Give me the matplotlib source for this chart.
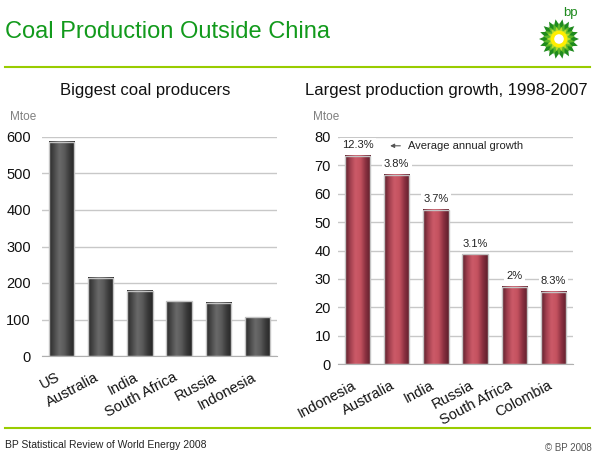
import matplotlib.pyplot as plt
import numpy as np
import matplotlib.transforms as mtransforms
from matplotlib.colors import LinearSegmentedColormap
from matplotlib.patches import Polygon, Circle

# data
producers = ['US', 'Australia', 'India', 'South Africa', 'Russia', 'Indonesia']
production = [587, 214, 179, 150, 146, 106]

growers = ['Indonesia', 'Australia', 'India', 'Russia', 'South Africa', 'Colombia']
growth = [73.4, 66.7, 54.4, 38.7, 27.2, 25.4]
growth_pct = ['12.3%', '3.8%', '3.7%', '3.1%', '2%', '8.3%']

W, H = 593, 454
plt.rcParams['font.family'] = ['Liberation Sans', 'DejaVu Sans']
fig = plt.figure(figsize=(W / 100, H / 100), dpi=100)


def px_axes(x0, y0, x1, y1):
    # pixel box (top-left origin) -> figure axes
    return fig.add_axes([x0 / W, 1 - y1 / H, (x1 - x0) / W, (y1 - y0) / H])


def shade_bars(ax, bars, colors):
    cmap = LinearSegmentedColormap.from_list('cyl', colors)
    grad = np.linspace(0, 1, 64).reshape(1, -1)
    for b in bars:
        x, y, w, h = b.get_x(), b.get_y(), b.get_width(), b.get_height()
        ax.imshow(grad, cmap=cmap, aspect='auto', extent=(x, x + w, y, y + h),
                  zorder=2, interpolation='bicubic')
        b.set_facecolor('none')
        b.set_zorder(3)


def style(ax, ymax, step, ypad):
    ax.set_ylim(0, ymax)
    ax.set_xlim(-0.5, 5.5)
    ax.set_yticks(np.arange(0, ymax + 1, step))
    ax.grid(axis='y', color='#c8c8c8', linewidth=1)
    ax.set_axisbelow(True)
    for s in ['top', 'right', 'left']:
        ax.spines[s].set_visible(False)
    ax.spines['bottom'].set_color('#b0b0b0')
    ax.tick_params(axis='both', length=0, labelsize=10.5, colors='#111111')
    ax.tick_params(axis='y', pad=ypad)
    ax.tick_params(axis='x', pad=10)
    shift = mtransforms.ScaledTranslation(-6 / 100, 0, fig.dpi_scale_trans)
    for lab in ax.get_xticklabels():
        lab.set_rotation(28)
        lab.set_ha('right')
        lab.set_rotation_mode('anchor')
        lab.set_transform(lab.get_transform() + shift)


# left chart
ax1 = px_axes(42, 137, 277, 356)
b1 = ax1.bar(producers, production, width=0.65, edgecolor='#c4c4c4', linewidth=1)
style(ax1, 600, 100, 8)
shade_bars(ax1, b1, ['#2a2a2a', '#4a4a4a', '#6a6a6a', '#5a5a5a', '#3a3a3a', '#262626'])
ax1.set_xlim(-0.5, 5.5)
ax1.set_ylim(0, 600)

# right chart
ax2 = px_axes(338, 137, 573, 364)
b2 = ax2.bar(growers, growth, width=0.65, edgecolor='#c4c4c4', linewidth=1)
style(ax2, 80, 10, 5)
shade_bars(ax2, b2, ['#5a1e2a', '#a2404f', '#cc5a68', '#c4525f', '#8a3040', '#5e1f2c'])
ax2.set_xlim(-0.5, 5.5)
ax2.set_ylim(0, 80)
for b, lab in zip(b2, growth_pct):
    ax2.annotate(lab, (b.get_x() + b.get_width() / 2, b.get_height()),
                 xytext=(0, 4), textcoords='offset points', ha='center', va='bottom',
                 fontsize=8, color='#222222',
                 bbox=dict(boxstyle='square,pad=0.2', fc='white', ec='none'))
ax2.annotate('Average annual growth', xy=(0.83, 76.9), xytext=(1.29, 76.9),
             va='center', ha='left', fontsize=8, color='#222222',
             arrowprops=dict(arrowstyle='-|>', color='#555555', lw=0.8,
                             mutation_scale=6, shrinkA=4, shrinkB=0),
             bbox=dict(boxstyle='square,pad=0.2', fc='white', ec='none'))

# texts
fig.text(5 / W, 1 - 32 / H, 'Coal Production Outside China', color='#129a1c',
         fontsize=17, va='center', ha='left')
fig.text(145 / W, 1 - 91 / H, 'Biggest coal producers', fontsize=12,
         ha='center', va='center', color='#111111')
fig.text(305 / W, 1 - 91 / H, 'Largest production growth, 1998-2007', fontsize=12,
         ha='left', va='center', color='#111111')
fig.text(10 / W, 1 - 117 / H, 'Mtoe', fontsize=8.5, color='#808080', va='center')
fig.text(313 / W, 1 - 117 / H, 'Mtoe', fontsize=8.5, color='#808080', va='center')
fig.text(5 / W, 1 - 445 / H, 'BP Statistical Review of World Energy 2008', fontsize=7.5,
         color='#222222', va='center')
fig.text(545 / W, 1 - 448 / H, '\u00a9 BP 2008', fontsize=7, color='#555555', va='center')

# green rules
for y in (67, 428):
    fig.add_artist(plt.Line2D([5 / W, 590 / W], [1 - y / H, 1 - y / H],
                              color='#99cc00', linewidth=1.5))

# bp helios logo
lg = px_axes(538, 18, 580, 60)
lg.set_xlim(-1.05, 1.05)
lg.set_ylim(-1.05, 1.05)
lg.axis('off')
for r_out, r_in, n, col, rot in [(1.0, 0.72, 18, '#1f8a1e', 0), (0.82, 0.55, 18, '#5cb82a', np.pi / 18),
                                 (0.62, 0.42, 14, '#b8dc2a', 0)]:
    ang = np.linspace(0, 2 * np.pi, 2 * n, endpoint=False) + rot
    rr = np.where(np.arange(2 * n) % 2 == 0, r_out, r_in)
    lg.add_patch(Polygon(np.c_[rr * np.cos(ang), rr * np.sin(ang)], closed=True, fc=col, ec='none'))
lg.add_patch(Circle((0, 0), 0.42, fc='#ffee00', ec='none'))
lg.add_patch(Circle((0, 0), 0.24, fc='white', ec='none'))
fig.text(570 / W, 1 - 13 / H, 'bp', color='#1f8a1e', fontsize=9.5, ha='center', va='center')

fig.savefig('out.png', dpi=100)
